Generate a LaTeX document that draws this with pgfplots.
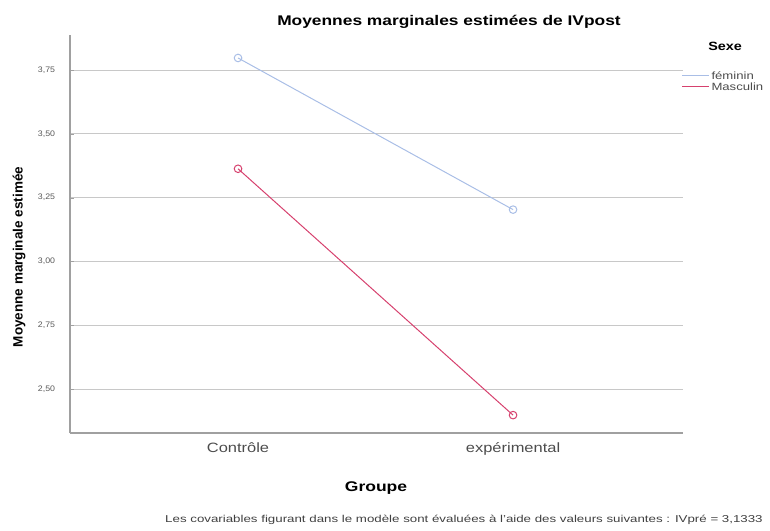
\documentclass[border=0pt]{standalone}
\usepackage{pgfplots}
\pgfplotsset{compat=1.18}
\usepackage{fontspec}
\setmainfont{Liberation Sans}
\definecolor{fem}{HTML}{A9BEE6}
\definecolor{mas}{HTML}{D6416E}
\definecolor{gridc}{HTML}{C8C8C8}
\definecolor{axc}{HTML}{A0A0A0}
\begin{document}
\begin{tikzpicture}
\useasboundingbox (0pt,0pt) rectangle (770pt,530pt);
\begin{axis}[
  at={(70pt,97pt)}, anchor=south west,
  scale only axis, width=613pt, height=398pt,
  xmin=-0.611, xmax=1.618,
  ymin=2.328, ymax=3.887,
  axis x line*=bottom, axis y line*=left,
  axis line style={axc, line width=1.2pt},
  xtick={0,1}, xticklabels={Contrôle,expérimental},
  ytick={2.5,2.75,3,3.25,3.5,3.75},
  /pgf/number format/fixed,
  /pgf/number format/fixed zerofill,
  /pgf/number format/precision=2,
  /pgf/number format/use comma,
  /pgf/number format/assume math mode=true,
  yticklabel style={font=\fontsize{8}{9}\selectfont, text=black!65, xscale=1.1, xshift=-10pt},
  xticklabel style={font=\fontsize{13.5}{15}\selectfont, text=black!70, xscale=1.22, yshift=-6pt},
  major tick length=4pt,
  tick style={axc},
  xtick style={draw=none},
  ymajorgrids, grid style={gridc, line width=0.8pt},
  clip=false,
]
\addplot[fem, line width=1pt, mark=o, mark size=3.8pt, mark options={fill=fem!40}]
  coordinates {(0,3.797) (1,3.203)};
\addplot[mas, line width=1pt, mark=o, mark size=3.8pt, mark options={fill=mas!35}]
  coordinates {(0,3.363) (1,2.398)};
\end{axis}
% titles and labels
\node[font=\bfseries\fontsize{14}{16}\selectfont, xscale=1.24] at (449pt,508pt) {Moyennes marginales estimées de IVpost};
\node[font=\bfseries\fontsize{13.5}{15}\selectfont, rotate=90] at (19pt,273pt) {Moyenne marginale estimée};
\node[font=\bfseries\fontsize{14}{16}\selectfont, xscale=1.25] at (376pt,42pt) {Groupe};
\node[font=\fontsize{10}{12}\selectfont, text=black!75, xscale=1.33] at (464pt,10pt) {Les covariables figurant dans le modèle sont évaluées à l'aide des valeurs suivantes : IVpré = 3,1333};
% legend
\node[font=\bfseries\fontsize{12}{14}\selectfont, xscale=1.2, anchor=west] at (704pt,484pt) {Sexe};
\draw[fem, line width=1pt] (682pt,454pt) -- (709pt,454pt);
\node[font=\fontsize{10.5}{12}\selectfont, text=black!70, xscale=1.25, anchor=west, inner sep=1pt] at (710pt,454pt) {féminin};
\draw[mas, line width=1pt] (682pt,443pt) -- (709pt,443pt);
\node[font=\fontsize{10.5}{12}\selectfont, text=black!70, xscale=1.25, anchor=west, inner sep=1pt] at (710pt,443pt) {Masculin};
\end{tikzpicture}
\end{document}
